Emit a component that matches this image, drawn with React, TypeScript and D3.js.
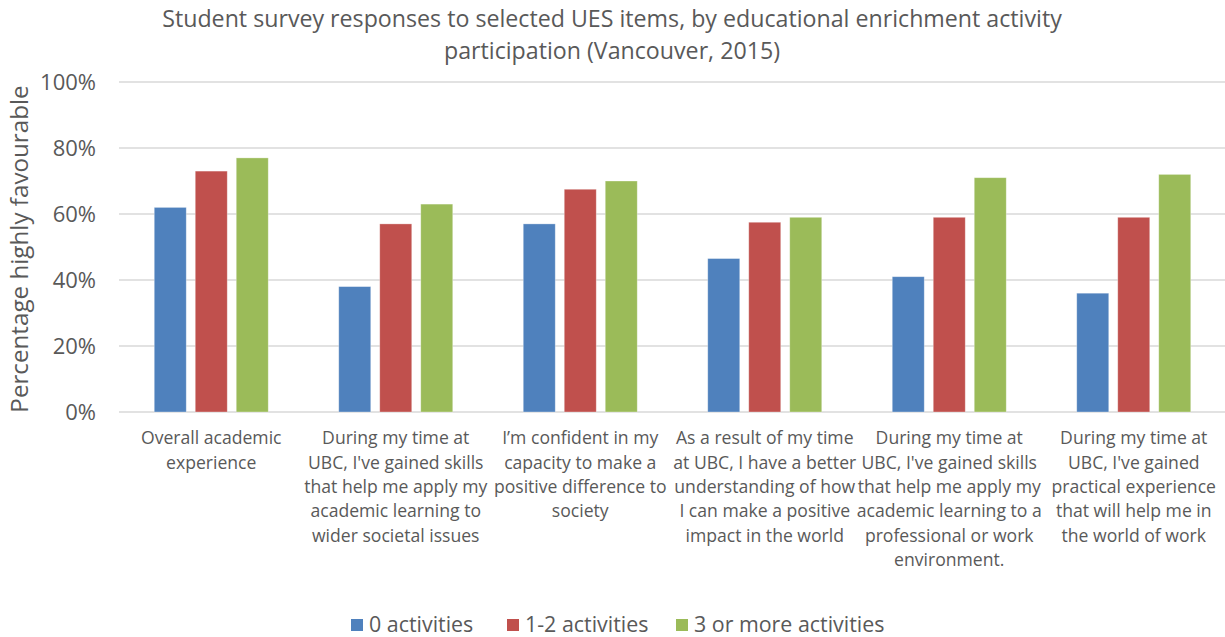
import React from "react";
import * as d3 from "d3";

const categories: string[][] = [
  ["Overall academic", "experience"],
  ["During my time at", "UBC, I've gained skills", "that help me apply my", "academic learning to", "wider societal issues"],
  ["I\u2019m confident in my", "capacity to make a", "positive difference to", "society"],
  ["As a result of my time", "at UBC, I have a better", "understanding of how", "I can make a positive", "impact in the world"],
  ["During my time at", "UBC, I've gained skills", "that help me apply my", "academic learning to a", "professional or work", "environment."],
  ["During my time at", "UBC, I've gained", "practical experience", "that will help me in", "the world of work"],
];
const seriesNames = ["0 activities", "1-2 activities", "3 or more activities"];
const zeroActivities = [62, 38, 57, 46.5, 41, 36];
const oneTwoActivities = [73, 57, 67.5, 57.5, 59, 59];
const threePlusActivities = [77, 63, 70, 59, 71, 72];
const seriesColors = ["#4f81bd", "#c0504d", "#9bbb59"];
const yTicks = [0, 20, 40, 60, 80, 100];
const titleLines = [
  "Student survey responses to selected UES items, by educational enrichment activity",
  "participation (Vancouver, 2015)",
];
const yAxisTitle = "Percentage highly favourable";

const W = 1225;
const H = 637;
const FONT = "'Open Sans', sans-serif";
const TEXT = "#595959";

export default function App() {
  const seriesValues = [zeroActivities, oneTwoActivities, threePlusActivities];
  const idx = categories.map((_, i) => i);
  const x0 = d3.scaleBand<number>().domain(idx).range([119, 1226]).padding(0);
  const x1 = d3.scaleBand<number>().domain([0, 1, 2]).range([-57, 57]).paddingInner(9 / 41).paddingOuter(0);
  const y = d3.scaleLinear().domain([0, 100]).range([412, 82]);
  const fmt = (v: number) => `${v}%`;

  const legendX = [351, 507, 676];

  return (
    <svg
      width={W}
      height={H}
      style={{ position: "absolute", left: 0, top: 0, background: "#fff" }}
      fontFamily={FONT}
    >
      {titleLines.map((t, i) => (
        <text key={i} x={612} y={19 + i * 32} dy="0.35em" textAnchor="middle" fontSize={23.2} fill={TEXT}>
          {t}
        </text>
      ))}
      {yTicks.map((t) => (
        <g key={t}>
          <line x1={119} x2={1225} y1={y(t)} y2={y(t)} stroke="#d9d9d9" strokeWidth={1.3} />
          <text x={96} y={y(t)} dy="0.35em" textAnchor="end" fontSize={22} fill={TEXT}>
            {fmt(t)}
          </text>
        </g>
      ))}
      <text
        transform={`translate(20,249) rotate(-90)`}
        dy="0.35em"
        textAnchor="middle"
        fontSize={24.2}
        fill={TEXT}
      >
        {yAxisTitle}
      </text>
      {idx.map((ci) => {
        const cx = (x0(ci) as number) + x0.bandwidth() / 2;
        return (
          <g key={ci}>
            {seriesValues.map((vals, si) => (
              <rect
                key={si}
                x={cx + (x1(si) as number)}
                y={y(vals[ci])}
                width={x1.bandwidth()}
                height={y(0) - y(vals[ci])}
                fill={seriesColors[si]}
                stroke="#ffffff"
                strokeOpacity={0.4}
                strokeWidth={0.8}
              />
            ))}
            {categories[ci].map((line, li) => (
              <text
                key={li}
                x={cx}
                y={438 + li * 24.4}
                dy="0.35em"
                textAnchor="middle"
                fontSize={17.6}
                fill={TEXT}
              >
                {line}
              </text>
            ))}
          </g>
        );
      })}
      {seriesNames.map((s, i) => (
        <g key={s}>
          <rect x={legendX[i]} y={619} width={12} height={12} fill={seriesColors[i]} />
          <text x={legendX[i] + 18} y={625} dy="0.35em" fontSize={21.4} fill={TEXT}>
            {s}
          </text>
        </g>
      ))}
    </svg>
  );
}
